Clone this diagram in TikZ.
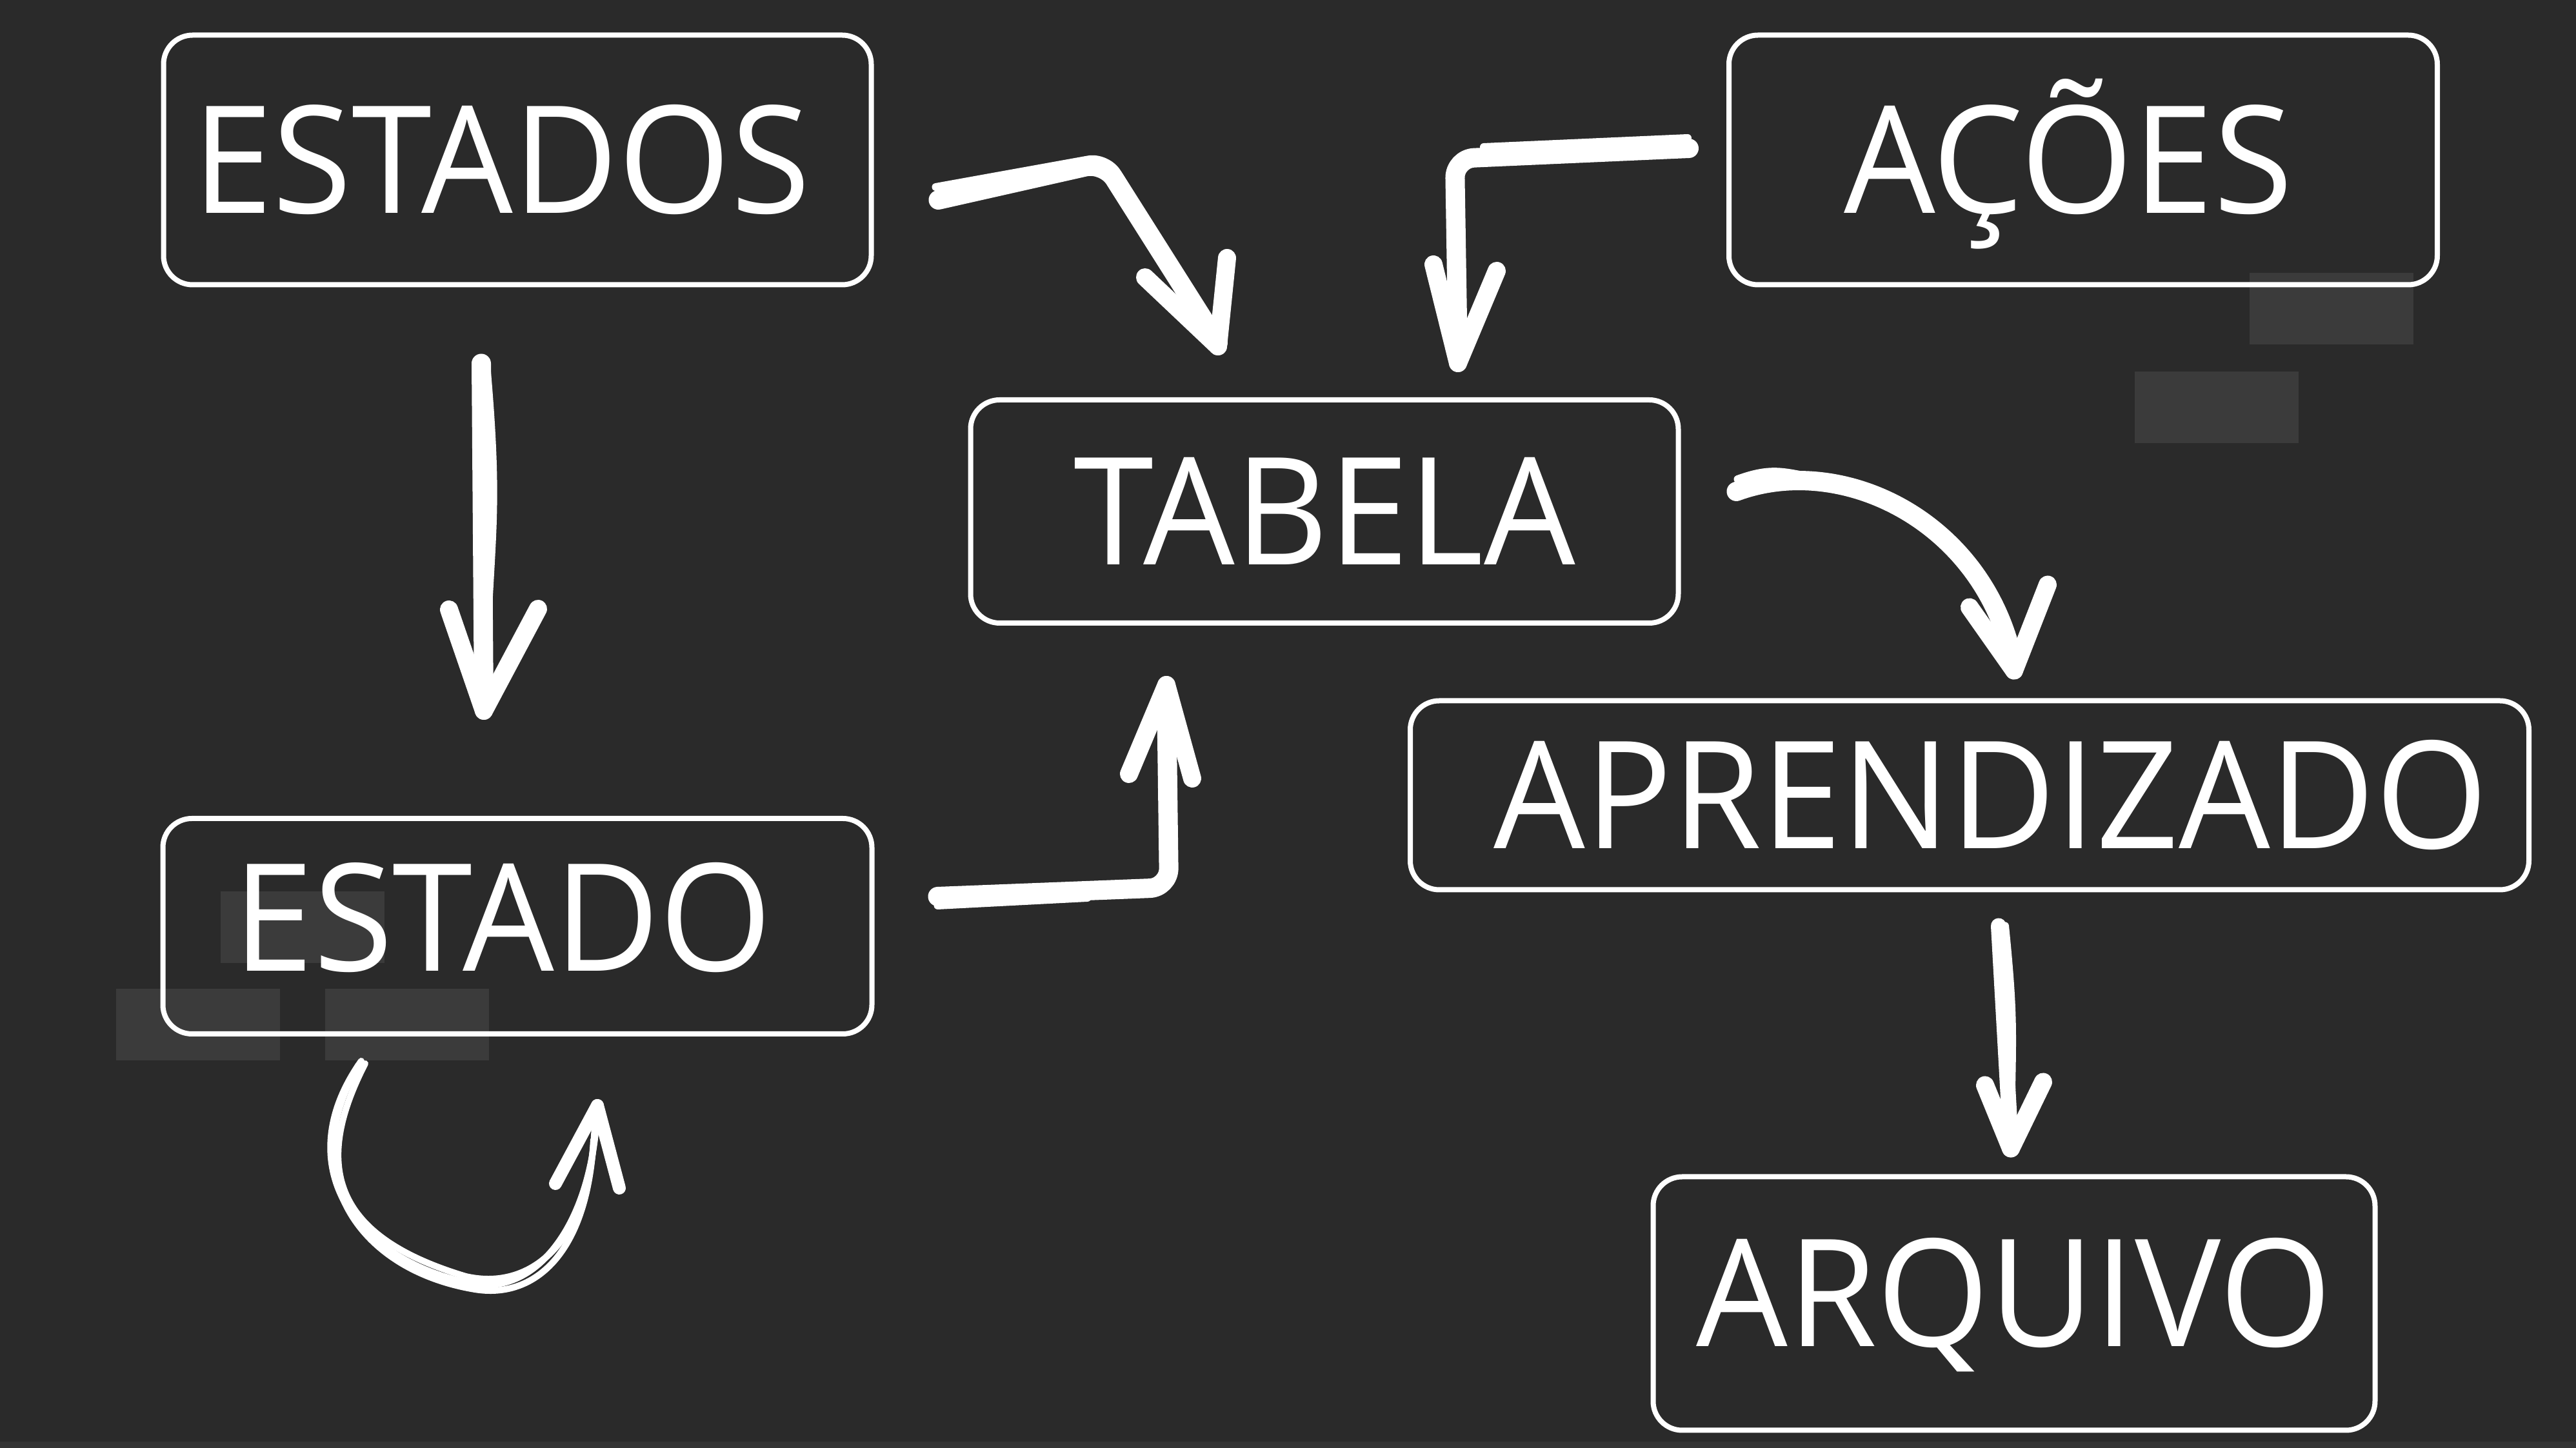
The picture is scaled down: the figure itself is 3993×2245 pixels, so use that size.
\documentclass[tikz,border=0pt]{standalone}
\usepackage{fontspec}
\setmainfont{Open Sans}[FakeStretch=0.965]
\usetikzlibrary{positioning,calc}

\definecolor{board}{HTML}{2A2A2A}
\definecolor{patch}{HTML}{3B3B3B}
\definecolor{strip}{HTML}{343434}

\tikzset{
  box/.style={draw=white,line width=0.8mm,rounded corners=4.5mm,text=white,
    font=\fontsize{66pt}{70pt}\selectfont,text height=16.6mm,text depth=0pt,inner sep=0pt},
  brush/.style={white,line width=3mm,line cap=round,line join=round,rounded corners=3mm},
  sketch/.style={white,line width=1.2mm,line cap=round,line join=round,rounded corners=3mm},
  loopline/.style={white,line width=1mm,line cap=round},
  barb/.style={white,line width=2.8mm,line cap=round}
}

\begin{document}
\begin{tikzpicture}[x=0.1mm,y=-0.1mm,on grid]

% background
\fill[board] (0,0) rectangle (3993,2245);
\fill[strip] (0,2235) rectangle (3993,2245);
\foreach \x/\y in {3487/423,3309/576,342/1382,180/1533,504/1533}
  \fill[patch] (\x,\y) rectangle ++(254,111);

% nodes
\node (estados) [box,minimum width=109.7mm,minimum height=38.7mm] at (802,248) {\hspace*{-5mm}ESTADOS};
\node (acoes) [box,minimum width=109.8mm,minimum height=38.7mm,right=242.7mm of estados] {\hspace*{-4.6mm}AÇÕES};
\node (tabela) [box,minimum width=109.7mm,minimum height=34.6mm,below right=54.5mm and 125.1mm of estados] {TABELA};
\node (estado) [box,minimum width=109.9mm,minimum height=33.4mm,below=118.8mm of estados] {\hspace*{-4.6mm}\raisebox{1.3mm}{ESTADO}};
\node (aprend) [box,minimum width=173.4mm,minimum height=29.3mm,below left=98.5mm and 17.6mm of acoes] {\hspace*{6.6mm}APRENDIZADO};
\node (arquivo) [box,minimum width=111.9mm,minimum height=39.3mm,below right=78.8mm and 6.9mm of aprend] {\raisebox{1.6mm}{ARQUIVO}};

% arrows
\draw[brush] ($(estados.east)+(100,62)$) -- ($(estados.east)+(357,4)$) -- ($(tabela.north)+(-165,-85)$);
\draw[sketch] ($(estados.east)+(96,42)$) -- ($(estados.east)+(362,-6)$) -- ($(tabela.north)+(-172,-101)$);
\draw[barb] ($(tabela.north)+(-165,-79)$) -- ++(-113,-107);
\draw[barb] ($(tabela.north)+(-165,-79)$) -- ++(14,-137);

\draw[brush] ($(acoes.west)+(-58,-18)$) -- ($(acoes.west)+(-421,-2)$) -- ($(tabela.north)+(207,-60)$);
\draw[sketch] ($(acoes.west)+(-60,-34)$) -- ($(acoes.west)+(-376,-20)$);
\draw[barb] ($(tabela.north)+(207,-53)$) -- ++(-38,-153);
\draw[barb] ($(tabela.north)+(207,-53)$) -- ++(60,-143);

\draw[brush] ($(estados.south)+(-56,118)$) -- ($(estado.north)+(-52,-170)$);
\draw[sketch] ($(estados.south)+(-48,120)$) .. controls +(22,250) and +(6,-250) .. ($(estado.north)+(-50,-190)$);
\draw[barb] ($(estado.north)+(-52,-163)$) -- ++(-54,-157);
\draw[barb] ($(estado.north)+(-52,-163)$) -- ++(84,-158);

\draw[brush] ($(tabela.east)+(86,-31)$) .. controls +(168,-62) and +(-42,-220) .. ($(aprend.north)+(69,-50)$);
\draw[sketch] ($(tabela.east)+(88,-50)$) .. controls +(60,-22) and +(-60,-8) .. ($(tabela.east)+(225,-50)$);
\draw[barb] ($(aprend.north)+(69,-43)$) -- ++(-69,-98);
\draw[barb] ($(aprend.north)+(69,-43)$) -- ++(52,-133);

\draw[brush] ($(estado.east)+(98,-46)$) -- ($(tabela.south)+(-241,406)$) -- ($(tabela.south)+(-245,98)$);
\draw[sketch] ($(estado.east)+(98,-32)$) -- ($(estado.east)+(330,-44)$);
\draw[barb] ($(tabela.south)+(-245,92)$) -- ++(-58,138);
\draw[barb] ($(tabela.south)+(-245,92)$) -- ++(40,145);

\draw[loopline] ($(estado.south)+(-242,38)$) .. controls +(-110,155) and +(-190,-40) .. ($(estado.south)+(-72,383)$) .. controls +(100,20) and +(-6,186) .. ($(estado.south)+(124,107)$);
\draw[loopline] ($(estado.south)+(-236,42)$) .. controls +(-85,165) and +(-200,-60) .. ($(estado.south)+(-80,372)$) .. controls +(110,25) and +(2,190) .. ($(estado.south)+(120,115)$);
\draw[loopline] ($(estado.south)+(-246,44)$) .. controls +(-100,170) and +(-180,-30) .. ($(estado.south)+(-66,392)$) .. controls +(90,15) and +(-10,180) .. ($(estado.south)+(118,160)$);
\draw[barb,line width=2mm] ($(estado.south)+(124,107)$) -- ++(-65,121);
\draw[barb,line width=2mm] ($(estado.south)+(124,107)$) -- ++(34,128);

\draw[brush,line width=2.4mm] ($(aprend.south)+(45,52)$) -- ($(arquivo.north)+(-5,-48)$);
\draw[sketch] ($(aprend.south)+(55,52)$) .. controls +(15,150) and +(2,-150) .. ($(arquivo.north)+(-5,-70)$);
\draw[barb] ($(arquivo.north)+(-5,-40)$) -- ++(-40,-98);
\draw[barb] ($(arquivo.north)+(-5,-40)$) -- ++(50,-103);
\end{tikzpicture}
\end{document}
